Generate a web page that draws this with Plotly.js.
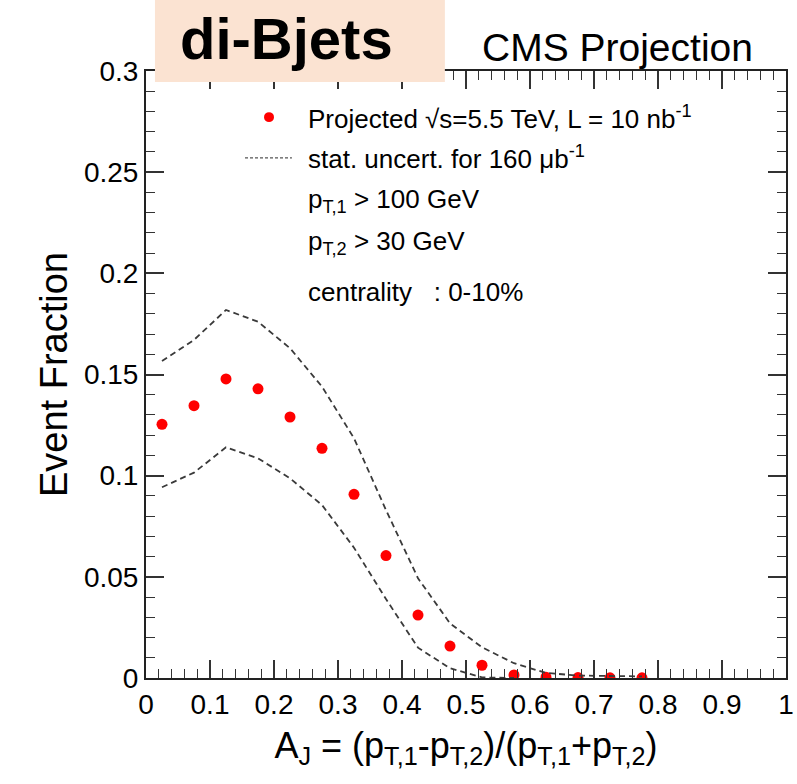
<!DOCTYPE html>
<html>
<head>
<meta charset="utf-8">
<script src="https://cdn.plot.ly/plotly-3.0.1.min.js"></script>
<style>
  html, body { margin: 0; padding: 0; background: #ffffff; }
  #chart { width: 797px; height: 784px; }
</style>
</head>
<body>
<div id="chart"></div>
<script>
// A_J bin centres
const ajBins = [0.025, 0.075, 0.125, 0.175, 0.225, 0.275, 0.325, 0.375,
                0.425, 0.475, 0.525, 0.575, 0.625, 0.675, 0.725, 0.775];
// projected event fraction, sqrt(s)=5.5 TeV, L = 10 nb^-1
const eventFraction = [0.1254, 0.1346, 0.1478, 0.1429, 0.1290, 0.1135, 0.0908, 0.0605,
                       0.0311, 0.0158, 0.0063, 0.0015, 0.0004, 0.0002, 0.0001, 0.0001];
// statistical uncertainty band for 160 mub^-1
const statUpper = [0.1567, 0.1671, 0.1819, 0.1761, 0.1630, 0.1440, 0.1185, 0.0830,
                   0.0493, 0.0270, 0.0152, 0.0073, 0.0025, 0.0012, 0.0010, 0.0008];
const lowerBins = [0.025, 0.075, 0.125, 0.175, 0.225, 0.275, 0.325, 0.375,
                   0.425, 0.475, 0.525, 0.575];
const statLower = [0.0943, 0.1015, 0.1140, 0.1086, 0.0987, 0.0855, 0.0644, 0.0390,
                   0.0150, 0.0048, 0.0003, 0.0];

const xTicks = [0, 0.1, 0.2, 0.3, 0.4, 0.5, 0.6, 0.7, 0.8, 0.9, 1];
const xTickText = ['0', '0.1', '0.2', '0.3', '0.4', '0.5', '0.6', '0.7', '0.8', '0.9', '1'];
const yTicks = [0, 0.05, 0.1, 0.15, 0.2, 0.25, 0.3];
const yTickText = ['0', '0.05', '0.1', '0.15', '0.2', '0.25', '0.3'];
const xRange = [0, 1];
const yRange = [0, 0.3];

const FONT = 'Liberation Sans, Arial, Helvetica, sans-serif';
const dashStyle = {color: '#3a3a3a', width: 1.8, dash: '6px,4px'};

// the band lines live on the overlay axes (same ranges) that carry the fine ticks
const traces = [
  {x: ajBins, y: statUpper, xaxis: 'x2', yaxis: 'y2', mode: 'lines', line: dashStyle,
   hoverinfo: 'skip', showlegend: false},
  {x: lowerBins, y: statLower, xaxis: 'x2', yaxis: 'y2', mode: 'lines', line: dashStyle,
   hoverinfo: 'skip', showlegend: false},
  {x: ajBins, y: eventFraction, mode: 'markers', showlegend: false,
   marker: {color: '#ff0000', size: 11, symbol: 'circle'}}
];

const axisCommon = {
  showline: true, linecolor: '#222222', linewidth: 2, mirror: 'allticks',
  tickmode: 'array', ticks: 'inside', ticklen: 18, tickwidth: 1.6, tickcolor: '#333333',
  showgrid: false, zeroline: false, fixedrange: true,
  tickfont: {family: FONT, size: 28, color: '#000000'}
};
const fineAxis = {
  showline: true, linecolor: '#222222', linewidth: 2, mirror: 'allticks',
  tickmode: 'linear', tick0: 0, ticks: 'inside', ticklen: 9, tickwidth: 1.3, tickcolor: '#333333',
  showticklabels: false, showgrid: false, zeroline: false, fixedrange: true
};

const rowX = 0.25;
const textFont = {family: FONT, size: 26, color: '#000000'};
const legendRows = [
  {y: 0.924, text: 'Projected √s=5.5 TeV, L = 10 nb<sup>-1</sup>'},
  {y: 0.857, text: 'stat. uncert. for 160 μb<sup>-1</sup>'},
  {y: 0.787, text: 'p<sub>T,1</sub> > 100 GeV'},
  {y: 0.718, text: 'p<sub>T,2</sub> > 30 GeV'},
  {y: 0.636, text: 'centrality   : 0-10%'}
];

const annotations = legendRows.map(r => ({
  xref: 'paper', yref: 'paper', x: rowX, y: r.y, xanchor: 'left', yanchor: 'middle',
  text: r.text, showarrow: false, font: textFont
}));
annotations.push(
  {xref: 'paper', yref: 'paper', x: 0.22, y: 1.053, xanchor: 'center', yanchor: 'middle',
   text: '<b>di-Bjets</b>', showarrow: false, font: {family: FONT, size: 58, color: '#000000'}},
  {xref: 'paper', yref: 'paper', x: 0.737, y: 1.038, xanchor: 'center', yanchor: 'middle',
   text: 'CMS Projection', showarrow: false, font: {family: FONT, size: 39, color: '#000000'}}
);

const shapes = [
  // label box behind the sample name
  {type: 'rect', xref: 'paper', yref: 'paper', x0: 0.014, x1: 0.467, y0: 0.982, y1: 1.12,
   fillcolor: '#fbe3d2', line: {width: 0}, layer: 'above'},
  // legend keys
  {type: 'circle', xref: 'paper', yref: 'paper', x0: 0.1922 - 0.0078, x1: 0.1922 + 0.0078,
   y0: 0.924 - 0.0082, y1: 0.924 + 0.0082, fillcolor: '#ff0000', line: {width: 0}},
  {type: 'line', xref: 'paper', yref: 'paper', x0: 0.1547, x1: 0.228, y0: 0.857, y1: 0.857,
   line: {color: '#555555', width: 1.2, dash: '3px,2px'}}
];

const layout = {
  width: 797, height: 784,
  margin: {l: 146, r: 11, t: 71, b: 106},
  paper_bgcolor: '#ffffff', plot_bgcolor: '#ffffff',
  showlegend: false,
  xaxis: Object.assign({}, axisCommon, {
    range: xRange, tickvals: xTicks, ticktext: xTickText,
    title: {text: 'A<sub>J</sub> = (p<sub>T,1</sub>-p<sub>T,2</sub>)/(p<sub>T,1</sub>+p<sub>T,2</sub>)',
            font: {family: FONT, size: 36, color: '#000000'}, standoff: 14}
  }),
  yaxis: Object.assign({}, axisCommon, {
    range: yRange, tickvals: yTicks, ticktext: yTickText,
    title: {text: 'Event Fraction', font: {family: FONT, size: 38, color: '#000000'}, standoff: 5}
  }),
  xaxis2: Object.assign({}, fineAxis, {range: xRange, dtick: 0.02, overlaying: 'x', anchor: 'y2', side: 'bottom'}),
  yaxis2: Object.assign({}, fineAxis, {range: yRange, dtick: 0.01, overlaying: 'y', anchor: 'x2', side: 'left'}),
  annotations: annotations,
  shapes: shapes
};

Plotly.newPlot('chart', traces, layout, {displayModeBar: false});
</script>
</body>
</html>
